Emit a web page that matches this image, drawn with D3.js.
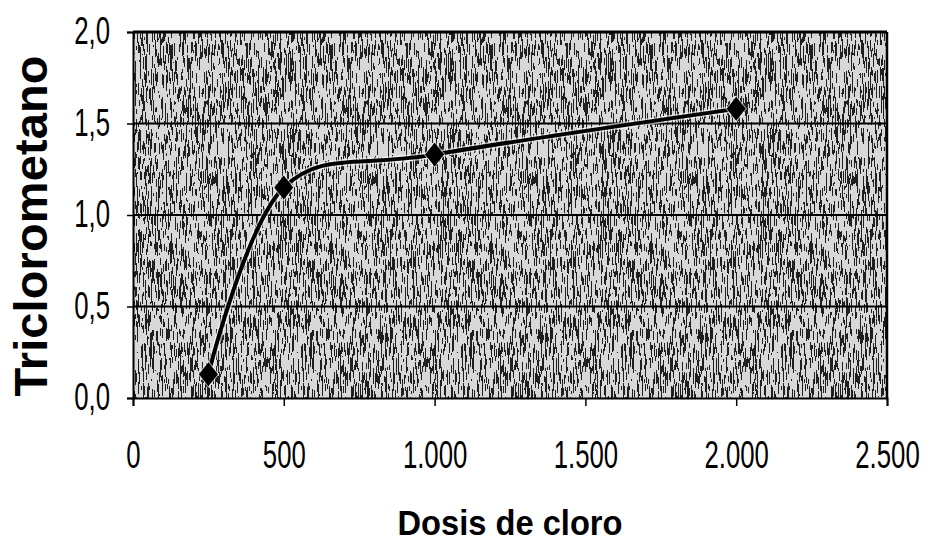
<!DOCTYPE html>
<html>
<head>
<meta charset="utf-8">
<script src="https://cdn.jsdelivr.net/npm/d3@7"></script>
<style>
  body { margin: 0; background: #fff; }
  svg { display: block; }
  .tick text { font-family: "Liberation Sans", Arial, sans-serif; }
</style>
</head>
<body>
<div id="main"></div>
<script>
// Data
const dosis = [250, 500, 1000, 2000];
const triclorometano = [0.13, 1.15, 1.33, 1.58];

const xTicks = [0, 500, 1000, 1500, 2000, 2500];
const yTicks = [0, 0.5, 1.0, 1.5, 2.0];
const xTickLabels = ['0', '500', '1.000', '1.500', '2.000', '2.500'];
const yTickLabels = ['0,0', '0,5', '1,0', '1,5', '2,0'];

const xTitle = 'Dosis de cloro';
const yTitle = 'Triclorometano';

// Size
const w = 931;
const h = 554;
const pLeft = 133, pRight = 887, pTop = 32, pBottom = 398;
const squeeze = 0.66; // narrow look for the tick font

let svg = d3.select('#main')
    .append('svg')
    .attr('width', w)
    .attr('height', h);

// scanned halftone look for the plot area
const defs = svg.append('defs');
const f = defs.append('filter')
    .attr('id', 'grain')
    .attr('x', 0).attr('y', 0).attr('width', 1).attr('height', 1);
f.append('feTurbulence')
    .attr('type', 'fractalNoise')
    .attr('baseFrequency', '1.6 0.07')
    .attr('numOctaves', 2)
    .attr('seed', 7)
    .attr('result', 'noise');
f.append('feColorMatrix')
    .attr('in', 'noise')
    .attr('type', 'matrix')
    .attr('values', '0 0 0 0 0  0 0 0 0 0  0 0 0 0 0  0 0 0 -5 2.72')
    .attr('result', 'dots');
f.append('feComponentTransfer')
    .attr('in', 'dots')
    .append('feFuncA')
    .attr('type', 'discrete')
    .attr('tableValues', '0 1');

const xScale = d3.scaleLinear()
    .domain([0, 2500])
    .range([pLeft, pRight]);

const yScale = d3.scaleLinear()
    .domain([0, 2])
    .range([pBottom, pTop]);

svg.append('rect')
    .attr('x', pLeft).attr('y', pTop)
    .attr('width', pRight - pLeft).attr('height', pBottom - pTop)
    .attr('fill', '#d8d8d8');

svg.append('rect')
    .attr('x', pLeft).attr('y', pTop)
    .attr('width', pRight - pLeft).attr('height', pBottom - pTop)
    .attr('fill', '#000')
    .attr('filter', 'url(#grain)')
    .style('opacity', 0.85);

// gridlines
svg.append('g')
    .selectAll('line')
    .data(yTicks.filter((d) => d > 0))
    .enter()
    .append('line')
    .attr('x1', pLeft).attr('x2', pRight)
    .attr('y1', (d) => yScale(d)).attr('y2', (d) => yScale(d))
    .attr('stroke', '#000')
    .attr('stroke-width', (d) => d == 2 ? 3 : 2);

// right border
svg.append('line')
    .attr('x1', pRight).attr('x2', pRight)
    .attr('y1', pTop).attr('y2', pBottom)
    .attr('stroke', '#000')
    .attr('stroke-width', 2.5);

const yAxis = d3.axisLeft(yScale)
    .tickValues(yTicks)
    .tickFormat((d, i) => yTickLabels[i])
    .tickSize(6);

const xAxis = d3.axisBottom(xScale)
    .tickValues(xTicks)
    .tickFormat((d, i) => xTickLabels[i])
    .tickSize(8);

let gy = svg.append('g').attr('transform', `translate(${pLeft},0)`).call(yAxis);
let gx = svg.append('g').attr('transform', `translate(0,${pBottom})`).call(xAxis);

[gx, gy].forEach((g) => {
    g.select('.domain').attr('stroke', '#000').attr('stroke-width', 2);
    g.selectAll('.tick line').attr('stroke', '#000').attr('stroke-width', 1.5);
    g.selectAll('.tick text')
        .attr('fill', '#000')
        .attr('transform', `scale(${squeeze},1)`)
        .style('font-size', '39px');
});
gy.selectAll('.tick text').attr('x', -23 / squeeze).attr('dy', '0.3em');
gx.selectAll('.tick text').attr('y', 70).attr('dy', 0);

// smoothed line
const pts = dosis.map((d, i) => [d, triclorometano[i]]);
const line = d3.line()
    .x((d) => xScale(d[0]))
    .y((d) => yScale(d[1]))
    .curve(d3.curveCardinal.tension(0));

// faint light edge under the line, like the scan
svg.append('path')
    .datum(pts)
    .attr('d', line)
    .attr('fill', 'none')
    .attr('stroke', '#fff')
    .attr('stroke-width', 7)
    .style('opacity', 0.6);

svg.append('path')
    .datum(pts)
    .attr('d', line)
    .attr('fill', 'none')
    .attr('stroke', '#000')
    .attr('stroke-width', 4);

// diamond markers
svg.append('g')
    .selectAll('path')
    .data(pts)
    .enter()
    .append('path')
    .attr('transform', (d) => `translate(${xScale(d[0])},${yScale(d[1])})`)
    .attr('d', 'M0,-12L9.5,0L0,12L-9.5,0Z')
    .attr('fill', '#000')
    .attr('stroke', '#fff')
    .attr('stroke-width', 2)
    .attr('stroke-opacity', 0.6)
    .attr('paint-order', 'stroke');

// axis titles
svg.append('text')
    .attr('x', (pLeft + pRight) / 2)
    .attr('y', 535)
    .attr('text-anchor', 'middle')
    .attr('textLength', 225)
    .attr('lengthAdjust', 'spacingAndGlyphs')
    .style('font-family', '"Liberation Sans", Arial, sans-serif')
    .style('font-weight', 'bold')
    .style('font-size', '35px')
    .text(xTitle);

svg.append('text')
    .attr('transform', 'translate(47,226) rotate(-90)')
    .attr('text-anchor', 'middle')
    .attr('textLength', 341)
    .attr('lengthAdjust', 'spacing')
    .style('font-family', '"Liberation Sans", Arial, sans-serif')
    .style('font-weight', 'bold')
    .style('font-size', '47px')
    .text(yTitle);
</script>
</body>
</html>
